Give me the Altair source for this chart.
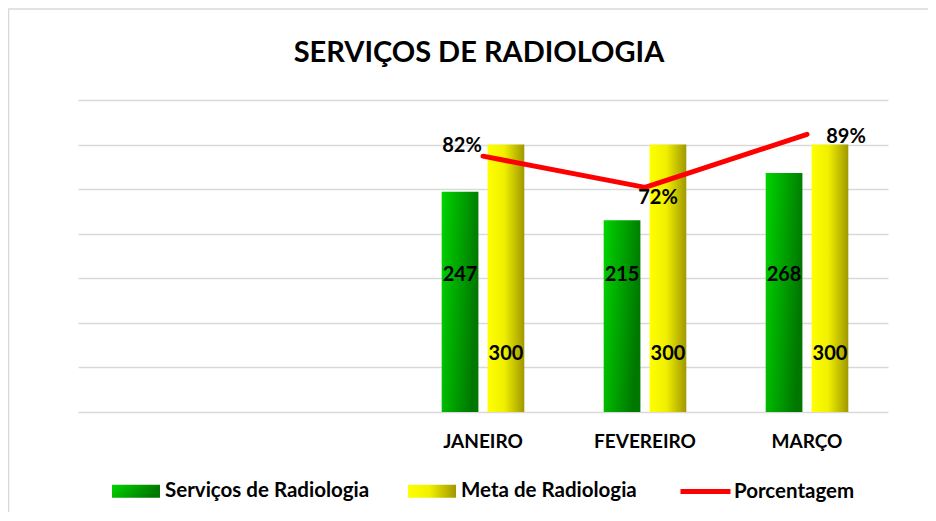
import altair as alt
import pandas as pd

# ---- data ----
meses = ["", " ", "JANEIRO", "FEVEREIRO", "MARÇO"]
meses_dados = ["JANEIRO", "FEVEREIRO", "MARÇO"]
servicos = [247, 215, 268]
meta = [300, 300, 300]
porcentagem = [0.82, 0.72, 0.89]
series = ["Serviços de Radiologia", "Meta de Radiologia"]
linha = "Porcentagem"
titulo = "SERVIÇOS DE RADIOLOGIA"

bars_df = pd.DataFrame({
    "mes": meses_dados * 2,
    "serie": [series[0]] * len(meses_dados) + [series[1]] * len(meses_dados),
    "valor": servicos + meta,
})
line_df = pd.DataFrame({"mes": meses_dados, "pct": porcentagem, "serie": [linha] * len(meses_dados)})

FONT = "Lato"
green_grad = ("{gradient: 'linear', x1: 0, y1: 0, x2: 1, y2: 0.3, stops: ["
              "{offset: 0, color: '#00d400'}, {offset: 1, color: '#007800'}]}")
yellow_grad = ("{gradient: 'linear', x1: 0, y1: 0, x2: 1, y2: 0, stops: ["
               "{offset: 0, color: '#ffff00'}, {offset: 0.45, color: '#f0f000'}, {offset: 1, color: '#a09800'}]}")

x_enc = alt.X(
    "mes:N",
    sort=meses,
    scale=alt.Scale(domain=meses, paddingInner=0.49, paddingOuter=0.245),
    axis=alt.Axis(title=None, labelAngle=0, ticks=False, domain=False, grid=False,
                  labelFont=FONT, labelFontSize=19, labelFontWeight="bold",
                  labelColor="black", labelPadding=20),
)
xoff = alt.XOffset("serie:N", scale=alt.Scale(domain=series, paddingInner=0.2, paddingOuter=0))

y_bar = alt.Y(
    "valor:Q",
    scale=alt.Scale(domain=[0, 350]),
    axis=alt.Axis(title=None, labels=False, ticks=False, domain=False,
                  values=[0, 50, 100, 150, 200, 250, 300, 350],
                  grid=True, gridColor="#d9d9d9", gridWidth=1.5),
)

bars = alt.Chart(bars_df).mark_bar().encode(
    x=x_enc,
    xOffset=xoff,
    y=y_bar,
    color=alt.Color(
        "serie:N",
        scale=alt.Scale(domain=series, range=[alt.ExprRef(expr=green_grad), alt.ExprRef(expr=yellow_grad)]),
        legend=alt.Legend(title=None, orient="none", legendX=34, legendY=367, direction="horizontal",
                          symbolType="M-1,-0.27H1V0.27H-1Z", symbolSize=2304, symbolStrokeWidth=0,
                          labelFont=FONT, labelFontSize=20.5, labelFontWeight="bold", labelColor="black",
                          labelOffset=5, columnPadding=38, labelLimit=400),
    ),
)

lbl_style = dict(font=FONT, fontSize=20, fontWeight="bold", color="black", baseline="middle")

green_lbl = alt.Chart(bars_df).transform_filter(
    alt.datum.serie == series[0]
).mark_text(**lbl_style).encode(x=x_enc, xOffset=xoff, y=alt.datum(154), text="valor:Q")

yellow_lbl = alt.Chart(bars_df).transform_filter(
    alt.datum.serie == series[1]
).mark_text(**lbl_style).encode(x=x_enc, xOffset=xoff, y=alt.datum(65), text="valor:Q")

bar_group = alt.layer(bars, green_lbl, yellow_lbl)

y_line = alt.Y("pct:Q", scale=alt.Scale(domain=[0, 1]), axis=None)

line = alt.Chart(line_df).mark_line(strokeWidth=5, strokeCap="round", strokeJoin="round").encode(
    x=x_enc,
    y=y_line,
    stroke=alt.Stroke(
        "serie:N",
        scale=alt.Scale(domain=[linha], range=["#ff0000"]),
        legend=alt.Legend(title=None, orient="none", legendX=600, legendY=364, direction="horizontal",
                          symbolType="stroke", symbolSize=2500, symbolStrokeWidth=5,
                          labelFont=FONT, labelFontSize=20.5, labelFontWeight="bold", labelColor="black",
                          labelOffset=1, labelLimit=400),
    ),
)

pct_offsets = [(-21, -10), (13, 11), (39, 3)]
pct_layers = []
for mes, (dx, dy) in zip(meses_dados, pct_offsets):
    pct_layers.append(
        alt.Chart(line_df).transform_filter(alt.datum.mes == mes)
        .mark_text(dx=dx, dy=dy, **lbl_style)
        .encode(x=x_enc, y=y_line, text=alt.Text("pct:Q", format=".0%"))
    )

line_group = alt.layer(line, *pct_layers)

frame = alt.Chart(pd.DataFrame({"f": [0]})).mark_rect(
    filled=False, stroke="#d9d9d9", strokeWidth=1.5
).encode(x=alt.value(-69.5), x2=alt.value(900), y=alt.value(-91), y2=alt.value(600))

chart = alt.layer(frame, bar_group, line_group).resolve_scale(y="independent").properties(
    width=810,
    height=312,
    autosize=alt.AutoSizeParams(type="none"),
    padding={"left": 70, "top": 92, "right": 40, "bottom": 100},
    background="white",
    title=alt.TitleParams(titulo, font=FONT, fontSize=29, fontWeight="bold", color="black",
                          anchor="middle", offset=-60, dx=-4),
).configure_view(strokeWidth=0)

chart.save("out.html", embed_options={"renderer": "svg", "actions": False})
